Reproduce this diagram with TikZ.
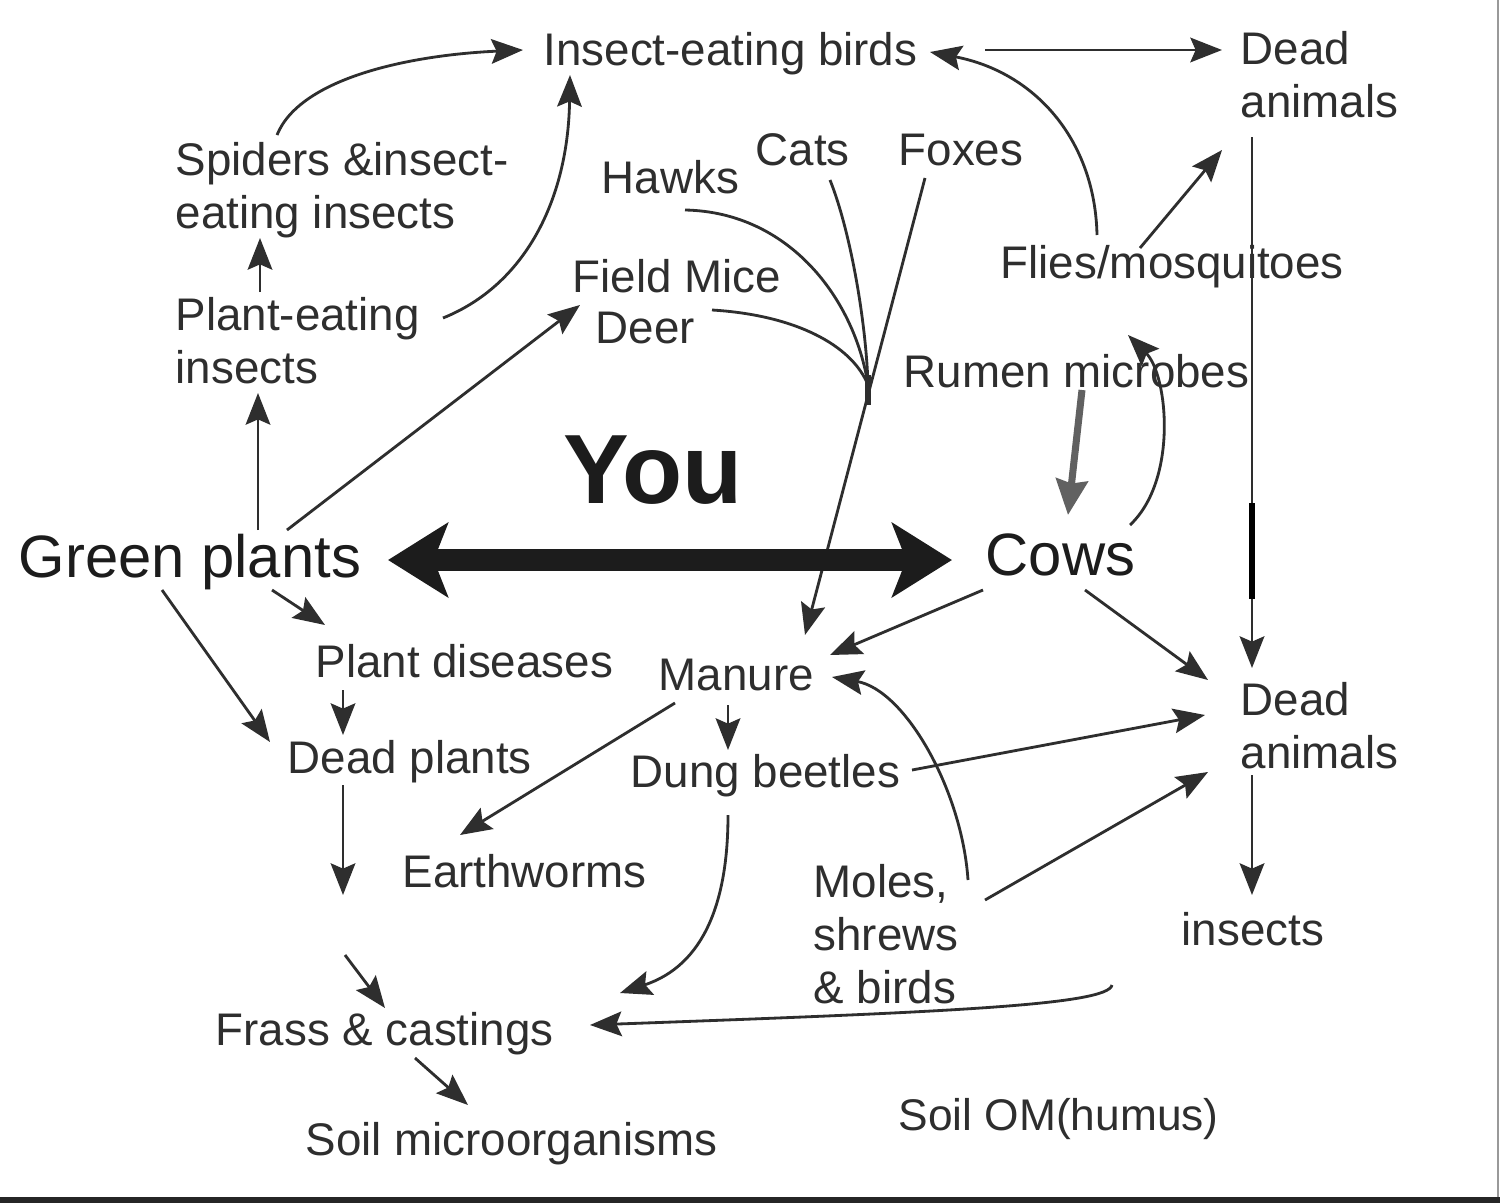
\documentclass[tikz,border=0pt]{standalone}
\usepackage{fontspec}
\setmainfont{Liberation Sans}
\usetikzlibrary{arrows.meta}
\definecolor{ink}{HTML}{2E2E2E}
\definecolor{dark}{HTML}{1C1C1C}
\begin{document}
\begin{tikzpicture}[x=0.01cm,y=-0.01cm,
  lbl/.style={anchor=base west, inner sep=0pt, text=ink, align=left,
              font=\fontsize{13}{15}\selectfont},
  big/.style={lbl, text=dark, font=\fontsize{17}{20}\selectfont},
  conn/.style={draw=ink, line width=0.8pt, -{Stealth[length=9pt,width=7pt,inset=1.5pt]}},
  plain/.style={draw=ink, line width=0.8pt},
  youarrow/.style={draw=dark, line width=6.5pt,
     {Stealth[length=17pt,width=21pt,inset=4pt]}-{Stealth[length=17pt,width=21pt,inset=4pt]}},
  rumenarrow/.style={draw=black!62, line width=2pt, -{Stealth[length=10pt,width=9pt,inset=1pt]}}]

\useasboundingbox (0,0) rectangle (1500,1203);
\fill[white] (0,0) rectangle (1500,1203);
\fill[black!85] (0,1197) rectangle (1500,1203);
\draw[black!40, line width=0.6pt] (1498,0) -- (1498,1197);

% ---------- labels (multi-line nodes anchored at their last baseline) ----------
\node[lbl] (ieb) at (543,65) {Insect-eating birds};
\node[lbl] (deadtop) at (1240,117) {Dead\\animals};
\node[lbl] (spiders) at (175,228) {Spiders \&insect-\\eating insects};
\node[lbl] (pei) at (175,383) {Plant-eating\\insects};
\node[lbl] (hawks) at (601,193) {Hawks};
\node[lbl] (cats) at (755,165) {Cats};
\node[lbl] (foxes) at (898,165) {Foxes};
\node[lbl] (mice) at (572,292) {Field Mice};
\node[lbl] (deer) at (595,343) {Deer};
\node[lbl] (flies) at (1000,278) {Flies/mosquitoes};
\node[lbl] (rumen) at (903,387) {Rumen microbes};
\node[lbl, text=dark, font=\bfseries\fontsize{28}{32}\selectfont] (you) at (563,503) {You};
\node[big] (green) at (18,577) {Green plants};
\node[big] (cows) at (985,575) {Cows};
\node[lbl] (disease) at (315,677) {Plant diseases};
\node[lbl] (manure) at (658,690) {Manure};
\node[lbl] (deadmid) at (1240,768) {Dead\\animals};
\node[lbl] (deadpl) at (287,773) {Dead plants};
\node[lbl] (dung) at (630,787) {Dung beetles};
\node[lbl] (worms) at (402,887) {Earthworms};
\node[lbl] (moles) at (813,1003) {Moles,\\shrews\\\& birds};
\node[lbl] (insects) at (1181,945) {insects};
\node[lbl] (frass) at (215,1045) {Frass \& castings};
\node[lbl] (soilmic) at (305,1155) {Soil microorganisms};
\node[lbl, font=\fontsize{12.6}{15}\selectfont] (soilom) at (898,1130) {Soil OM(humus)};

\coordinate (merge) at (868,385);
\coordinate (gap1) at (343,895);
\coordinate (gap2) at (345,955);

% ---------- connectors ----------
\draw[conn] ([shift={(102,-93)}]spiders.base west) .. controls (300,78) and (410,55) .. ([shift={(-20,-15)}]ieb.base west);
\draw[conn] ([shift={(268,-65)}]pei.base west) .. controls (525,285) and (568,200) .. ([shift={(27,10)}]ieb.base west);
\draw[conn] ([shift={(85,-91)}]pei.base west) -- ([shift={(85,10)}]spiders.base west);
\draw[conn] ([shift={(240,-47)}]green.base west) -- ([shift={(83,10)}]pei.base west);
\draw[conn] ([shift={(269,-47)}]green.base west) -- ([shift={(8,13)}]mice.base west);

\draw[conn] ([shift={(442,-15)}]ieb.base west) -- ([shift={(-18,-67)}]deadtop.base west);
\draw[conn] ([shift={(140,-30)}]flies.base west) -- ([shift={(-18,33)}]deadtop.base west);
\draw[conn] ([shift={(97,-43)}]flies.base west) .. controls (1095,140) and (1035,72) .. ([shift={(387,-13)}]ieb.base west);

\draw[conn] ([shift={(12,20)}]deadtop.base west) -- coordinate[pos=0.69] (thickA) coordinate[pos=0.87] (thickB) ([shift={(12,-100)}]deadmid.base west);
\draw[draw=black, line width=1.8pt] (thickA) -- (thickB);

% predators converge onto the line to manure
\draw[plain] ([shift={(84,17)}]hawks.base west) .. controls (790,212) and (855,300) .. (merge);
\draw[plain] ([shift={(75,15)}]cats.base west) .. controls (850,230) and (866,320) .. (merge);
\draw[plain] ([shift={(117,-33)}]deer.base west) .. controls (795,315) and (852,345) .. (merge);
\draw[conn] ([shift={(27,13)}]foxes.base west) -- ([shift={(147,-55)}]manure.base west);
\draw[draw=ink, line width=1.6pt] ([shift={(0,-10)}]merge) -- ([shift={(0,20)}]merge);

\draw[rumenarrow] ([shift={(179,3)}]rumen.base west) -- ([shift={(83,-60)}]cows.base west);
\draw[conn] ([shift={(145,-50)}]cows.base west) .. controls (1178,480) and (1168,375) .. ([shift={(128,57)}]flies.base west);

\draw[youarrow] ([shift={(370,-17)}]green.base west) -- ([shift={(-33,-15)}]cows.base west);

\draw[conn] ([shift={(254,13)}]green.base west) -- ([shift={(10,-52)}]disease.base west);
\draw[conn] ([shift={(144,13)}]green.base west) -- ([shift={(-17,-31)}]deadpl.base west);
\draw[conn] ([shift={(28,13)}]disease.base west) -- ([shift={(56,-38)}]deadpl.base west);
\draw[conn] ([shift={(-2,15)}]cows.base west) -- ([shift={(172,-35)}]manure.base west);
\draw[conn] ([shift={(100,15)}]cows.base west) -- ([shift={(-32,-88)}]deadmid.base west);
\draw[conn] ([shift={(17,13)}]manure.base west) -- ([shift={(58,-52)}]worms.base west);
\draw[conn] ([shift={(70,15)}]manure.base west) -- ([shift={(98,-37)}]dung.base west);
\draw[conn] ([shift={(282,-17)}]dung.base west) -- ([shift={(-35,-53)}]deadmid.base west);
\draw[conn] ([shift={(155,-123)}]moles.base west) .. controls (962,790) and (905,690) .. ([shift={(174,-13)}]manure.base west);
\draw[conn] ([shift={(172,-103)}]moles.base west) -- ([shift={(-32,4)}]deadmid.base west);
\draw[conn] ([shift={(12,7)}]deadmid.base west) -- ([shift={(71,-50)}]insects.base west);
\draw[conn] ([shift={(56,12)}]deadpl.base west) -- (gap1);
\draw[conn] (gap2) -- ([shift={(170,-37)}]frass.base west);
\draw[conn] ([shift={(98,28)}]dung.base west) .. controls (728,900) and (705,965) .. ([shift={(405,-52)}]frass.base west);
\draw[conn] ([shift={(-69,40)}]insects.base west) .. controls (1108,1005) and (950,1012) .. ([shift={(375,-20)}]frass.base west);
\draw[conn] ([shift={(200,13)}]frass.base west) -- ([shift={(163,-50)}]soilmic.base west);
\end{tikzpicture}
\end{document}
